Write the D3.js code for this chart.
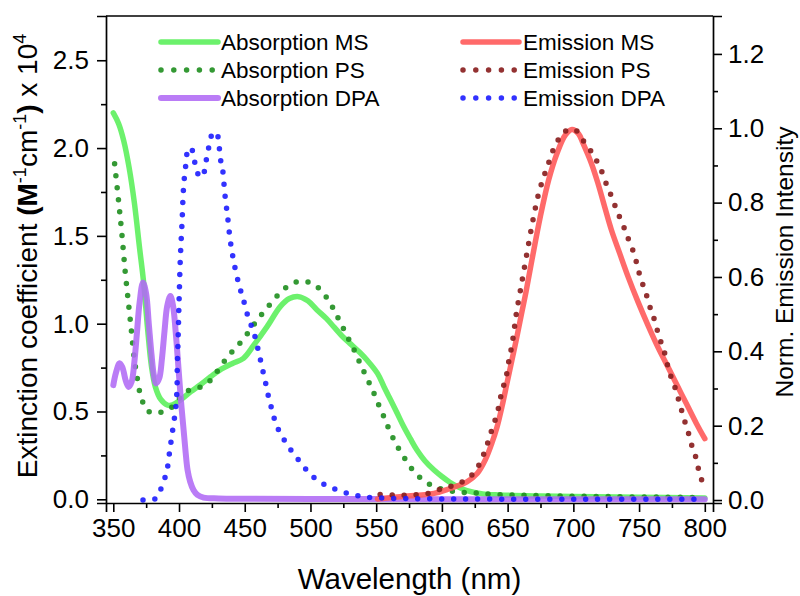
<!DOCTYPE html>
<html>
<head>
<meta charset="utf-8">
<script src="https://cdn.jsdelivr.net/npm/d3@7"></script>
<style>
  html, body { margin: 0; padding: 0; background: #fff; }
  svg { display: block; font-family: "Liberation Sans", Arial, sans-serif; }
</style>
</head>
<body>
<svg id="chart" width="800" height="596"></svg>
<script>
// Absorption spectra (extinction coefficient, x 10^4 M^-1 cm^-1): [wavelength nm, value]
const absorptionMS = [
  [350,2.20],[354,2.14],[358,2.04],[362,1.89],[366,1.69],[370,1.43],[373,1.24],[376,0.98],
  [379,0.76],[382,0.64],[386,0.57],[391,0.537],[395,0.537],[401,0.565],[409,0.613],[416,0.651],
  [424,0.698],[431,0.736],[441,0.775],[449,0.803],[457,0.879],[467,0.983],[477,1.097],[484,1.143],
  [491,1.154],[498,1.13],[505,1.078],[512,1.03],[518,0.98],[524,0.93],[530,0.888],[537,0.84],
  [543,0.793],[551,0.717],[556,0.64],[561,0.565],[566,0.49],[571,0.413],[576,0.345],[581,0.281],
  [587,0.22],[594,0.167],[600,0.13],[606,0.097],[613,0.068],[619,0.05],[631,0.031],[644,0.025],
  [670,0.019],[700,0.016],[750,0.012],[800,0.008]
];
const absorptionPS = [
  [351,1.91],[354,1.70],[356.6,1.505],[359,1.30],[361.5,1.12],[363.7,0.964],[365.5,0.83],[368,0.70],
  [371.8,0.565],[376.9,0.50],[384.5,0.493],[393.4,0.518],[399,0.565],[404.8,0.613],[412.4,0.628],
  [421.3,0.66],[427.6,0.714],[437.7,0.818],[444,0.869],[449.7,0.92],[455.5,0.98],[460.5,1.031],
  [466.2,1.082],[472,1.135],[478.3,1.186],[485.2,1.224],[493,1.243],[502,1.226],[509.2,1.179],
  [514.6,1.122],[518.9,1.065],[522.7,1.006],[527,0.945],[530.8,0.884],[534.9,0.826],[538.4,0.761],
  [542.3,0.702],[546,0.641],[549.6,0.581],[553,0.518],[556.7,0.456],[560.2,0.39],[564,0.332],
  [568.4,0.271],[573.4,0.214],[579,0.155],[585.6,0.11],[593.2,0.076],[602.6,0.053],[611.5,0.043],
  [620,0.038],[629,0.034],[638,0.028],[660,0.024],[692,0.019],[730,0.015],[770,0.012],[795,0.01]
];
const absorptionDPA = [
  [350,0.65],[352,0.72],[354.8,0.775],[357,0.75],[359.5,0.675],[361.7,0.64],[364,0.67],[366,0.78],
  [368,0.95],[370,1.12],[372.6,1.235],[375,1.17],[377,1.0],[379,0.83],[381,0.70],[382.7,0.66],
  [385,0.69],[387,0.80],[389,0.96],[391,1.10],[393.4,1.158],[395.5,1.10],[397.5,0.95],[399.7,0.736],
  [401.5,0.56],[403.5,0.395],[405,0.27],[406.5,0.167],[408.5,0.10],[411,0.053],[414,0.025],
  [418.7,0.01],[430,0.005],[450,0.003],[500,0.002],[600,0.001],[700,0.001],[800,0.001]
];

// Normalised emission spectra: [wavelength nm, intensity]
const emissionMS = [
  [551,0.003],[568,0.009],[594,0.018],[606,0.031],[619,0.049],[627,0.072],[633,0.108],[638,0.153],
  [642,0.197],[645.7,0.251],[649.5,0.314],[653.3,0.377],[657.1,0.44],[660.5,0.5],[664,0.56],
  [668.5,0.646],[674.9,0.763],[681.2,0.861],[687.6,0.933],[693.9,0.982],[699,0.997],[704,0.985],
  [707.3,0.96],[713.7,0.906],[718.7,0.852],[723.8,0.789],[728.9,0.727],[735.2,0.664],[741.6,0.601],
  [749.2,0.533],[756.8,0.47],[764.4,0.411],[772,0.358],[779.6,0.304],[787.3,0.25],[793.6,0.206],
  [800,0.165]
];
const emissionPS = [
  [553,0.015],[565,0.013],[578,0.014],[590,0.018],[598.8,0.029],[607.7,0.038],[615,0.048],
  [621.6,0.063],[626.7,0.085],[630.5,0.112],[633.8,0.143],[636.3,0.17],[638.9,0.199],[641.9,0.231],
  [643.9,0.262],[645.7,0.294],[648.5,0.325],[650,0.354],[651.5,0.386],[653.3,0.417],[654.6,0.449],
  [655.9,0.483],[657,0.51],[660,0.57],[663.5,0.64],[667,0.71],[670.5,0.775],[674,0.83],[677.5,0.87],
  [681,0.905],[685,0.945],[689,0.972],[693,0.99],[698,0.998],[702,0.994],[705.5,0.98],[709,0.958],
  [713.1,0.94],[717.3,0.915],[721.1,0.888],[724.2,0.858],[727.5,0.83],[730.8,0.8],[733.8,0.772],
  [736.4,0.752],[740.2,0.718],[742.8,0.693],[746.1,0.664],[748.3,0.635],[750.4,0.606],[752.9,0.579],
  [755.4,0.554],[758,0.522],[760.5,0.498],[763.1,0.466],[765.6,0.435],[768.2,0.41],[770.7,0.379],
  [772.6,0.348],[775.8,0.318],[778.4,0.291],[780.5,0.264],[783,0.233],[785.4,0.204],[788,0.175],
  [790.5,0.142],[793,0.117],[795.1,0.085],[797.6,0.054],[799.4,0.027]
];
const emissionDPA = [
  [372.6,0.0],[381.4,0.002],[385.2,0.022],[388.3,0.05],[390.8,0.078],[392,0.108],[393.4,0.144],
  [395.9,0.206],[397.2,0.237],[398,0.269],[398.5,0.303],[398.7,0.36],[399.2,0.42],[399.7,0.49],
  [400.2,0.556],[401,0.65],[402.3,0.747],[403.5,0.843],[405.3,0.906],[406.5,0.937],[409,0.948],
  [411.6,0.917],[413.1,0.885],[417.5,0.868],[420,0.897],[421.3,0.928],[423.3,0.958],[425.9,0.99],
  [429,0.983],[431.4,0.919],[433.2,0.888],[434.8,0.826],[437,0.761],[439,0.698],[442,0.635],
  [446,0.574],[448.7,0.543],[451,0.511],[453.5,0.483],[456.7,0.453],[459,0.422],[461.1,0.39],
  [463.1,0.359],[465,0.328],[467,0.298],[468.7,0.267],[471.2,0.238],[473.5,0.206],[477.8,0.175],
  [482.6,0.147],[488,0.121],[494,0.094],[499.9,0.069],[507,0.049],[513.8,0.036],[522.2,0.025],
  [531,0.015],[540,0.009],[548.6,0.006],[570,0.004],[600,0.003],[700,0.002],[800,0.002]
];

// Tick values
const xTicks = [350, 400, 450, 500, 550, 600, 650, 700, 750, 800];
const leftTicks = [0.0, 0.5, 1.0, 1.5, 2.0, 2.5];
const rightTicks = [0.0, 0.2, 0.4, 0.6, 0.8, 1.0, 1.2];

// Legend entries
const legendAbsorption = ["Absorption MS", "Absorption PS", "Absorption DPA"];
const legendEmission = ["Emission MS", "Emission PS", "Emission DPA"];

const svg = d3.select("#chart");
const plot = { left: 106, right: 713, top: 16, bottom: 503 };

const x = d3.scaleLinear().domain([344.45, 806.24]).range([plot.left, plot.right]);
const yAbs = d3.scaleLinear().domain([-0.021, 2.752]).range([plot.bottom, plot.top]);
const yEm = d3.scaleLinear().domain([-0.008, 1.302]).range([plot.bottom, plot.top]);

const styles = {
  absMS:  { color: "#5cf05c", width: 5.5, opacity: 0.9,  dotted: false },
  absPS:  { color: "#239023", width: 5.5, opacity: 0.92, dotted: true },
  absDPA: { color: "#b06af5", width: 6,   opacity: 0.88, dotted: false },
  emMS:   { color: "#ff5a5a", width: 5.5, opacity: 0.9,  dotted: false },
  emPS:   { color: "#8a1f1f", width: 5.5, opacity: 0.92, dotted: true },
  emDPA:  { color: "#1c1cff", width: 5.5, opacity: 0.9,  dotted: true }
};

function styleLine(sel, s) {
  sel.attr("fill", "none")
    .attr("stroke", s.color)
    .attr("stroke-width", s.width)
    .attr("stroke-opacity", s.opacity)
    .attr("stroke-linecap", "round")
    .attr("stroke-linejoin", "round");
  if (s.dotted) sel.attr("stroke-dasharray", "0 12");
  return sel;
}

const lineAbs = d3.line().x(d => x(d[0])).y(d => yAbs(d[1])).curve(d3.curveCatmullRom.alpha(0.5));
const lineEm = d3.line().x(d => x(d[0])).y(d => yEm(d[1])).curve(d3.curveCatmullRom.alpha(0.5));

const series = [
  { data: absorptionMS, line: lineAbs, s: styles.absMS },
  { data: absorptionPS, line: lineAbs, s: styles.absPS },
  { data: absorptionDPA, line: lineAbs, s: styles.absDPA },
  { data: emissionMS, line: lineEm, s: styles.emMS },
  { data: emissionPS, line: lineEm, s: styles.emPS },
  { data: emissionDPA, line: lineEm, s: styles.emDPA }
];

const curves = svg.append("g");
series.forEach(sr => {
  styleLine(curves.append("path").attr("d", sr.line(sr.data)), sr.s);
});

// Axes
const tickFont = 26;
const xAxis = d3.axisBottom(x).tickValues(xTicks).tickSize(9).tickPadding(5).tickFormat(d3.format("d"));
const xMinor = d3.axisBottom(x).tickValues(d3.range(350, 801, 25).filter(v => v % 50 !== 0)).tickSize(5).tickFormat("");
const yLAxis = d3.axisLeft(yAbs).tickValues(leftTicks).tickSize(9).tickPadding(8).tickFormat(d3.format(".1f"));
const yLMinor = d3.axisLeft(yAbs).tickValues([0.25, 0.75, 1.25, 1.75, 2.25]).tickSize(5).tickFormat("");
const yRAxis = d3.axisRight(yEm).tickValues(rightTicks).tickSize(9).tickPadding(6).tickFormat(d3.format(".1f"));
const yRMinor = d3.axisRight(yEm).tickValues([0.1, 0.3, 0.5, 0.7, 0.9, 1.1]).tickSize(5).tickFormat("");

function styleAxis(g) {
  g.selectAll("path.domain").attr("stroke", "#000").attr("stroke-width", 1.7);
  g.selectAll(".tick line").attr("stroke", "#000").attr("stroke-width", 1.6);
  g.selectAll(".tick text").attr("fill", "#000").style("font-size", tickFont + "px")
    .style("font-family", "'Liberation Sans', Arial, sans-serif");
  g.attr("font-family", null).attr("font-size", null);
}

svg.append("g").attr("transform", `translate(0,${plot.bottom})`).call(xAxis).call(styleAxis)
  .selectAll(".tick text").attr("dy", "0.76em");
svg.append("g").attr("transform", `translate(0,${plot.bottom})`).call(xMinor).call(styleAxis)
  .select("path.domain").remove();
svg.append("g").attr("transform", `translate(${plot.left},0)`).call(yLAxis).call(styleAxis);
svg.append("g").attr("transform", `translate(${plot.left},0)`).call(yLMinor).call(styleAxis)
  .select("path.domain").remove();
svg.append("g").attr("transform", `translate(${plot.right},0)`).call(yRAxis).call(styleAxis);
svg.append("g").attr("transform", `translate(${plot.right},0)`).call(yRMinor).call(styleAxis)
  .select("path.domain").remove();

// Top frame line
svg.append("line")
  .attr("x1", plot.left).attr("x2", plot.right)
  .attr("y1", plot.top).attr("y2", plot.top)
  .attr("stroke", "#000").attr("stroke-width", 1.7);

// Axis titles
svg.append("text")
  .attr("x", (plot.left + plot.right) / 2).attr("y", 589)
  .attr("text-anchor", "middle").style("font-size", "29.5px").attr("fill", "#000")
  .text("Wavelength (nm)");

const yTitle = svg.append("text")
  .attr("transform", "translate(37,256) rotate(-90)")
  .attr("text-anchor", "middle").style("font-size", "28px").attr("fill", "#000");
yTitle.append("tspan").text("Extinction coefficient ");
yTitle.append("tspan").style("font-weight", "bold").text("(M");
yTitle.append("tspan").attr("dy", -11).style("font-size", "18px").text("-1");
yTitle.append("tspan").attr("dy", 11).text("cm");
yTitle.append("tspan").attr("dy", -11).style("font-size", "18px").text("-1");
yTitle.append("tspan").attr("dy", 11).style("font-weight", "bold").text(")");
yTitle.append("tspan").text(" x 10");
yTitle.append("tspan").attr("dy", -11).style("font-size", "18px").text("4");

svg.append("text")
  .attr("transform", "translate(793,262) rotate(-90)")
  .attr("text-anchor", "middle").style("font-size", "24.5px").attr("fill", "#000")
  .text("Norm. Emission Intensity");

// Legend
const legendRows = [42, 70, 98];
const legendStyles = [[styles.absMS, styles.absPS, styles.absDPA], [styles.emMS, styles.emPS, styles.emDPA]];
const legendCols = [
  { x1: 161, x2: 218, tx: 221, labels: legendAbsorption },
  { x1: 463, x2: 519, tx: 523, labels: legendEmission }
];
const legend = svg.append("g");
legendCols.forEach((col, ci) => {
  col.labels.forEach((label, i) => {
    const s = legendStyles[ci][i];
    const ln = legend.append("line")
      .attr("x1", col.x1).attr("x2", col.x2)
      .attr("y1", legendRows[i]).attr("y2", legendRows[i]);
    styleLine(ln, s);
    if (s.dotted) ln.attr("stroke-dasharray", "0 12.8");
    legend.append("text")
      .attr("x", col.tx).attr("y", legendRows[i] + 8)
      .style("font-size", "22.5px").attr("fill", "#000")
      .text(label);
  });
});
</script>
</body>
</html>
